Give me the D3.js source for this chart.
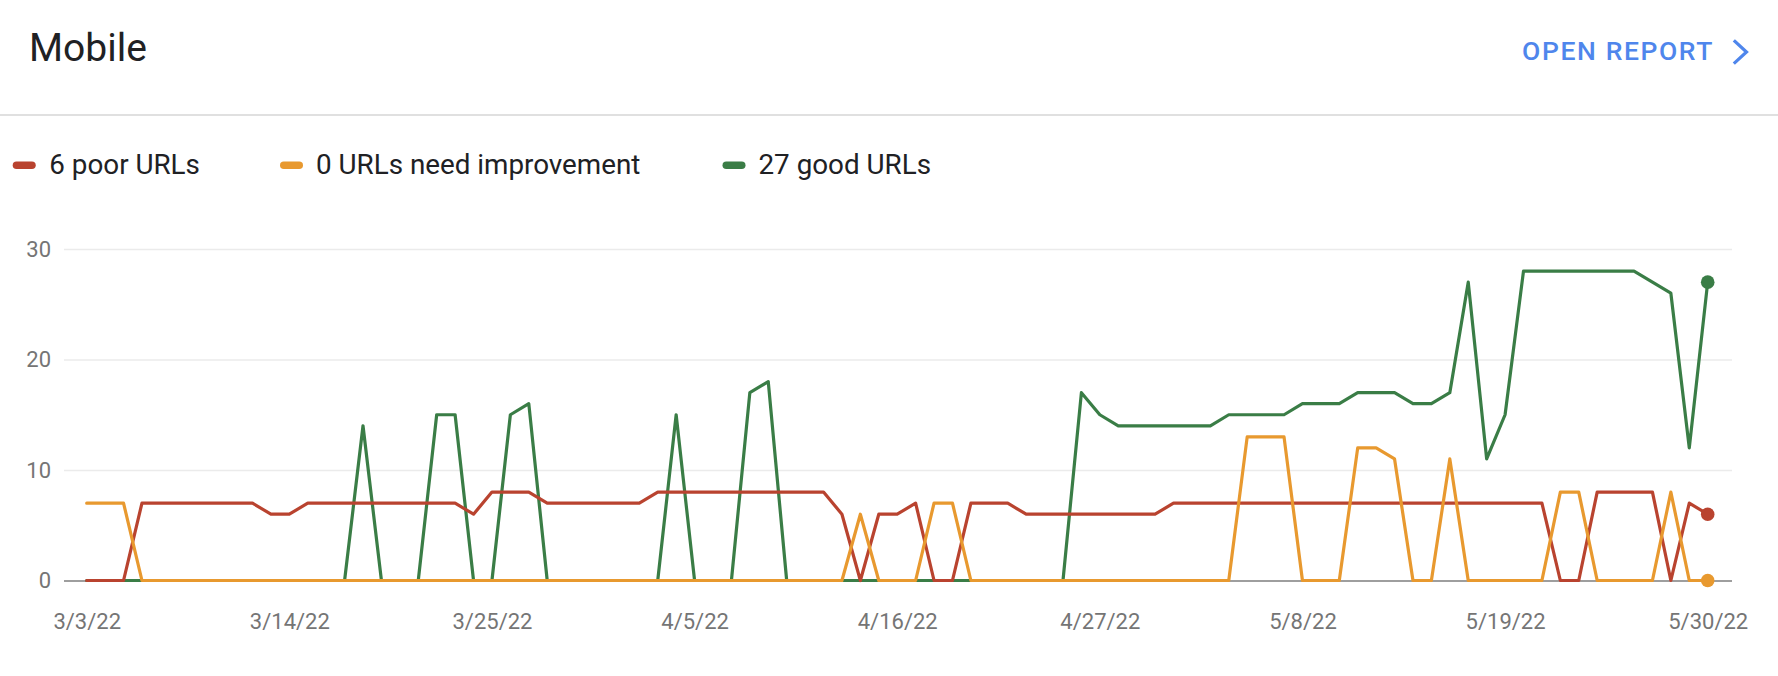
<!DOCTYPE html>
<html>
<head>
<meta charset="utf-8">
<script src="https://cdn.jsdelivr.net/npm/d3@7"></script>
<style>
  html, body { margin: 0; padding: 0; background: #fff; }
  svg { display: block; font-family: Roboto, "Noto Sans", sans-serif; }
</style>
</head>
<body>
<svg id="chart" width="1778" height="676"></svg>
<script>
// ---- data ----
const startDate = "2022-03-03";
const poorUrls = [0,0,0,7,7,7,7,7,7,7,6,6,7,7,7,7,7,7,7,7,7,6,8,8,8,7,7,7,7,7,7,8,8,8,8,8,8,8,8,8,8,6,0,6,6,7,0,0,7,7,7,6,6,6,6,6,6,6,6,7,7,7,7,7,7,7,7,7,7,7,7,7,7,7,7,7,7,7,7,7,0,0,8,8,8,8,0,7,6];
const needImprovement = [7,7,7,0,0,0,0,0,0,0,0,0,0,0,0,0,0,0,0,0,0,0,0,0,0,0,0,0,0,0,0,0,0,0,0,0,0,0,0,0,0,0,6,0,0,0,7,7,0,0,0,0,0,0,0,0,0,0,0,0,0,0,0,13,13,13,0,0,0,12,12,11,0,0,11,0,0,0,0,0,8,8,0,0,0,0,8,0,0];
const goodUrls = [0,0,0,0,0,0,0,0,0,0,0,0,0,0,0,14,0,0,0,15,15,0,0,15,16,0,0,0,0,0,0,0,15,0,0,0,17,18,0,0,0,0,0,0,0,0,0,0,0,0,0,0,0,0,17,15,14,14,14,14,14,14,15,15,15,15,16,16,16,17,17,17,16,16,17,27,11,15,28,28,28,28,28,28,28,27,26,12,27];
const yTicks = [0, 10, 20, 30];
const xTickLabels = ["3/3/22","3/14/22","3/25/22","4/5/22","4/16/22","4/27/22","5/8/22","5/19/22","5/30/22"];
const legendLabels = ["6 poor URLs", "0 URLs need improvement", "27 good URLs"];
const title = "Mobile";
const linkText = "OPEN REPORT";

// ---- setup ----
const colors = { poor: "#b9432f", need: "#e8992f", good: "#3a7d46" };
const svg = d3.select("#chart");
const parse = d3.timeParse("%Y-%m-%d");
const d0 = parse(startDate);
const dates = poorUrls.map((_, i) => d3.timeDay.offset(d0, i));
const tickParse = d3.timeParse("%m/%d/%y");
const tickDates = xTickLabels.map(s => tickParse(s));

const x = d3.scaleTime().domain([dates[0], dates[dates.length - 1]]).range([86.7, 1707.7]);
const y = d3.scaleLinear().domain([0, 30]).range([580.5, 249]);
const gridLeft = 64, gridRight = 1732;

// header
svg.append("text").attr("x", 29).attr("y", 60.5)
  .attr("font-size", 39).attr("fill", "#202124").text(title);
svg.append("text").attr("x", 1714).attr("y", 60)
  .attr("text-anchor", "end").attr("font-size", 26.5).attr("font-weight", 500)
  .attr("letter-spacing", 1.6).attr("fill", "#4f86ec").text(linkText);
svg.append("path").attr("d", "M1735,41.5 L1746.5,52 L1735,62.5")
  .attr("fill", "none").attr("stroke", "#4f86ec").attr("stroke-width", 3.2)
  .attr("stroke-linecap", "square");
svg.append("rect").attr("x", 0).attr("y", 114).attr("width", 1778).attr("height", 2).attr("fill", "#e0e0e0");

// legend
const legendItems = [
  { label: legendLabels[0], color: colors.poor, mx: 12.7, tx: 49.3 },
  { label: legendLabels[1], color: colors.need, mx: 280, tx: 316 },
  { label: legendLabels[2], color: colors.good, mx: 722.5, tx: 758.5 }
];
const lg = svg.append("g");
legendItems.forEach(d => {
  lg.append("rect").attr("x", d.mx).attr("y", 161.5).attr("width", 23).attr("height", 7.5)
    .attr("rx", 3.75).attr("fill", d.color);
  lg.append("text").attr("x", d.tx).attr("y", 174.3).attr("font-size", 27.8)
    .attr("fill", "#202124").text(d.label);
});

// y axis + gridlines
const yAxis = d3.axisLeft(y).tickValues(yTicks).tickSize(-(gridRight - gridLeft)).tickPadding(13);
const gy = svg.append("g").attr("transform", `translate(${gridLeft},0)`).call(yAxis);
gy.select(".domain").remove();
gy.selectAll(".tick line").attr("stroke", d => d === 0 ? "#9e9e9e" : "#ebebeb").attr("stroke-width", d => d === 0 ? 2 : 1.6);
gy.selectAll(".tick text").attr("font-size", 22).attr("fill", "#757575").attr("font-family", "Roboto");

// x axis labels
const xAxis = d3.axisBottom(x).tickValues(tickDates).tickFormat((d, i) => xTickLabels[i]).tickSize(0).tickPadding(0);
const gx = svg.append("g").attr("transform", `translate(0,608)`).call(xAxis);
gx.select(".domain").remove();
gx.selectAll(".tick text").attr("font-size", 22).attr("fill", "#757575").attr("font-family", "Roboto")
  .attr("dy", "0.95em");

// lines
const line = d3.line().x((d, i) => x(dates[i])).y(d => y(d));
const series = [
  { values: goodUrls, color: colors.good },
  { values: poorUrls, color: colors.poor },
  { values: needImprovement, color: colors.need }
];
series.forEach(s => {
  svg.append("path").datum(s.values).attr("d", line)
    .attr("fill", "none").attr("stroke", s.color).attr("stroke-width", 3.2)
    .attr("stroke-linejoin", "round").attr("stroke-linecap", "round");
});
series.forEach(s => {
  const last = s.values.length - 1;
  svg.append("circle").attr("cx", x(dates[last])).attr("cy", y(s.values[last]))
    .attr("r", 6.8).attr("fill", s.color);
});
</script>
</body>
</html>
